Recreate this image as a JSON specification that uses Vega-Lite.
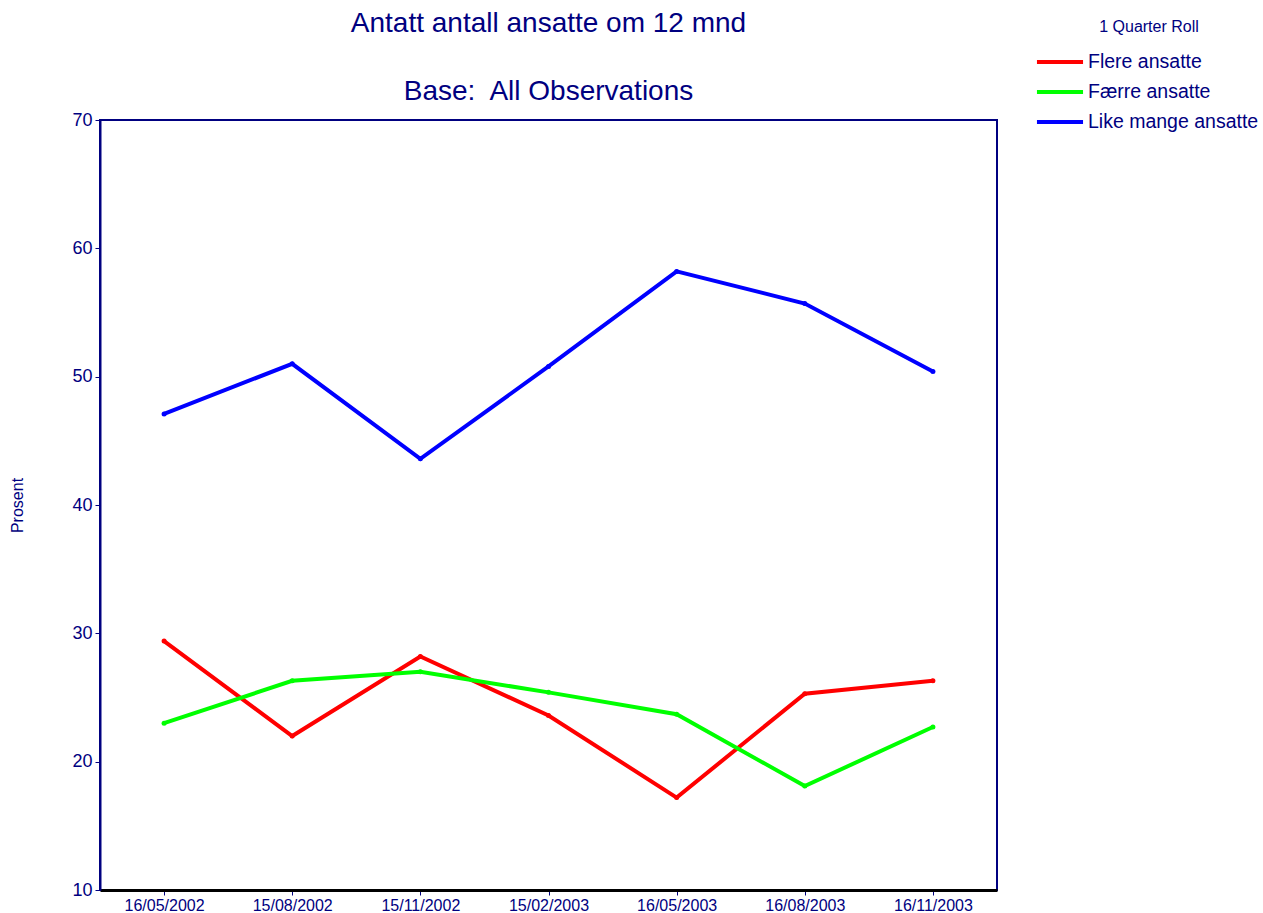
{
  "$schema": "https://vega.github.io/schema/vega-lite/v6.json",
  "autosize": "none",
  "width": 897,
  "height": 770,
  "padding": {"left": 100, "top": 120, "right": 266, "bottom": 23},
  "background": "white",
  "title": {
    "text": "Antatt antall ansatte om 12 mnd",
    "subtitle": "Base:\u00a0 All Observations",
    "anchor": "middle",
    "frame": "group",
    "font": "Liberation Sans",
    "fontSize": 28,
    "fontWeight": "normal",
    "color": "#000080",
    "subtitleFont": "Liberation Sans",
    "subtitleFontSize": 28,
    "subtitleColor": "#000080",
    "subtitlePadding": 40,
    "offset": -87
  },
  "config": {
    "view": {"stroke": "#000080", "strokeWidth": 2},
    "font": "Liberation Sans"
  },
  "data": {
    "values": [
      {"date": "16/05/2002", "series": "Flere ansatte", "value": 29.4},
      {"date": "15/08/2002", "series": "Flere ansatte", "value": 22.0},
      {"date": "15/11/2002", "series": "Flere ansatte", "value": 28.2},
      {"date": "15/02/2003", "series": "Flere ansatte", "value": 23.6},
      {"date": "16/05/2003", "series": "Flere ansatte", "value": 17.2},
      {"date": "16/08/2003", "series": "Flere ansatte", "value": 25.3},
      {"date": "16/11/2003", "series": "Flere ansatte", "value": 26.3},
      {"date": "16/05/2002", "series": "Færre ansatte", "value": 23.0},
      {"date": "15/08/2002", "series": "Færre ansatte", "value": 26.3},
      {"date": "15/11/2002", "series": "Færre ansatte", "value": 27.0},
      {"date": "15/02/2003", "series": "Færre ansatte", "value": 25.4},
      {"date": "16/05/2003", "series": "Færre ansatte", "value": 23.7},
      {"date": "16/08/2003", "series": "Færre ansatte", "value": 18.1},
      {"date": "16/11/2003", "series": "Færre ansatte", "value": 22.7},
      {"date": "16/05/2002", "series": "Like mange ansatte", "value": 47.1},
      {"date": "15/08/2002", "series": "Like mange ansatte", "value": 51.0},
      {"date": "15/11/2002", "series": "Like mange ansatte", "value": 43.6},
      {"date": "15/02/2003", "series": "Like mange ansatte", "value": 50.8},
      {"date": "16/05/2003", "series": "Like mange ansatte", "value": 58.2},
      {"date": "16/08/2003", "series": "Like mange ansatte", "value": 55.7},
      {"date": "16/11/2003", "series": "Like mange ansatte", "value": 50.4}
    ]
  },
  "mark": {"type": "line", "strokeWidth": 4, "point": {"filled": true, "size": 25}},
  "encoding": {
    "x": {
      "field": "date",
      "type": "ordinal",
      "sort": null,
      "scale": {"type": "point", "padding": 0.5},
      "axis": {
        "title": null,
        "labelAngle": 0,
        "labelFontSize": 16,
        "labelColor": "#000080",
        "labelPadding": 2,
        "tickColor": "#000080",
        "tickSize": 5,
        "domainColor": "#000000",
        "domainWidth": 3,
        "grid": false
      }
    },
    "y": {
      "field": "value",
      "type": "quantitative",
      "scale": {"domain": [10, 70], "nice": false, "zero": false},
      "axis": {
        "title": "Prosent",
        "titleFontSize": 16,
        "titleFontWeight": "normal",
        "titleColor": "#000080",
        "titleX": -83,
        "titleY": 385,
        "titleAngle": -90,
        "titleAlign": "center",
        "titleBaseline": "middle",
        "values": [10, 20, 30, 40, 50, 60, 70],
        "labelFontSize": 18,
        "labelColor": "#000080",
        "labelPadding": 3,
        "tickColor": "#000080",
        "tickSize": 5,
        "domainColor": "#000080",
        "domainWidth": 2,
        "grid": false
      }
    },
    "color": {
      "field": "series",
      "type": "nominal",
      "scale": {
        "domain": ["Flere ansatte", "Færre ansatte", "Like mange ansatte"],
        "range": ["#FF0000", "#00FF00", "#0000FF"]
      },
      "legend": {
        "title": "1 Quarter Roll",
        "titleAnchor": "middle",
        "orient": "none",
        "legendX": 940,
        "legendY": -101,
        "padding": 0,
        "titleFontSize": 16,
        "titleFontWeight": "normal",
        "titleColor": "#000080",
        "titlePadding": 7,
        "symbolType": "M-1.28,0H1.28",
        "symbolSize": 1296,
        "symbolStrokeWidth": 4,
        "symbolFillColor": "transparent",
        "labelFontSize": 19.5,
        "labelColor": "#000080",
        "labelOffset": 8,
        "labelLimit": 300,
        "rowPadding": 0
      }
    }
  }
}
